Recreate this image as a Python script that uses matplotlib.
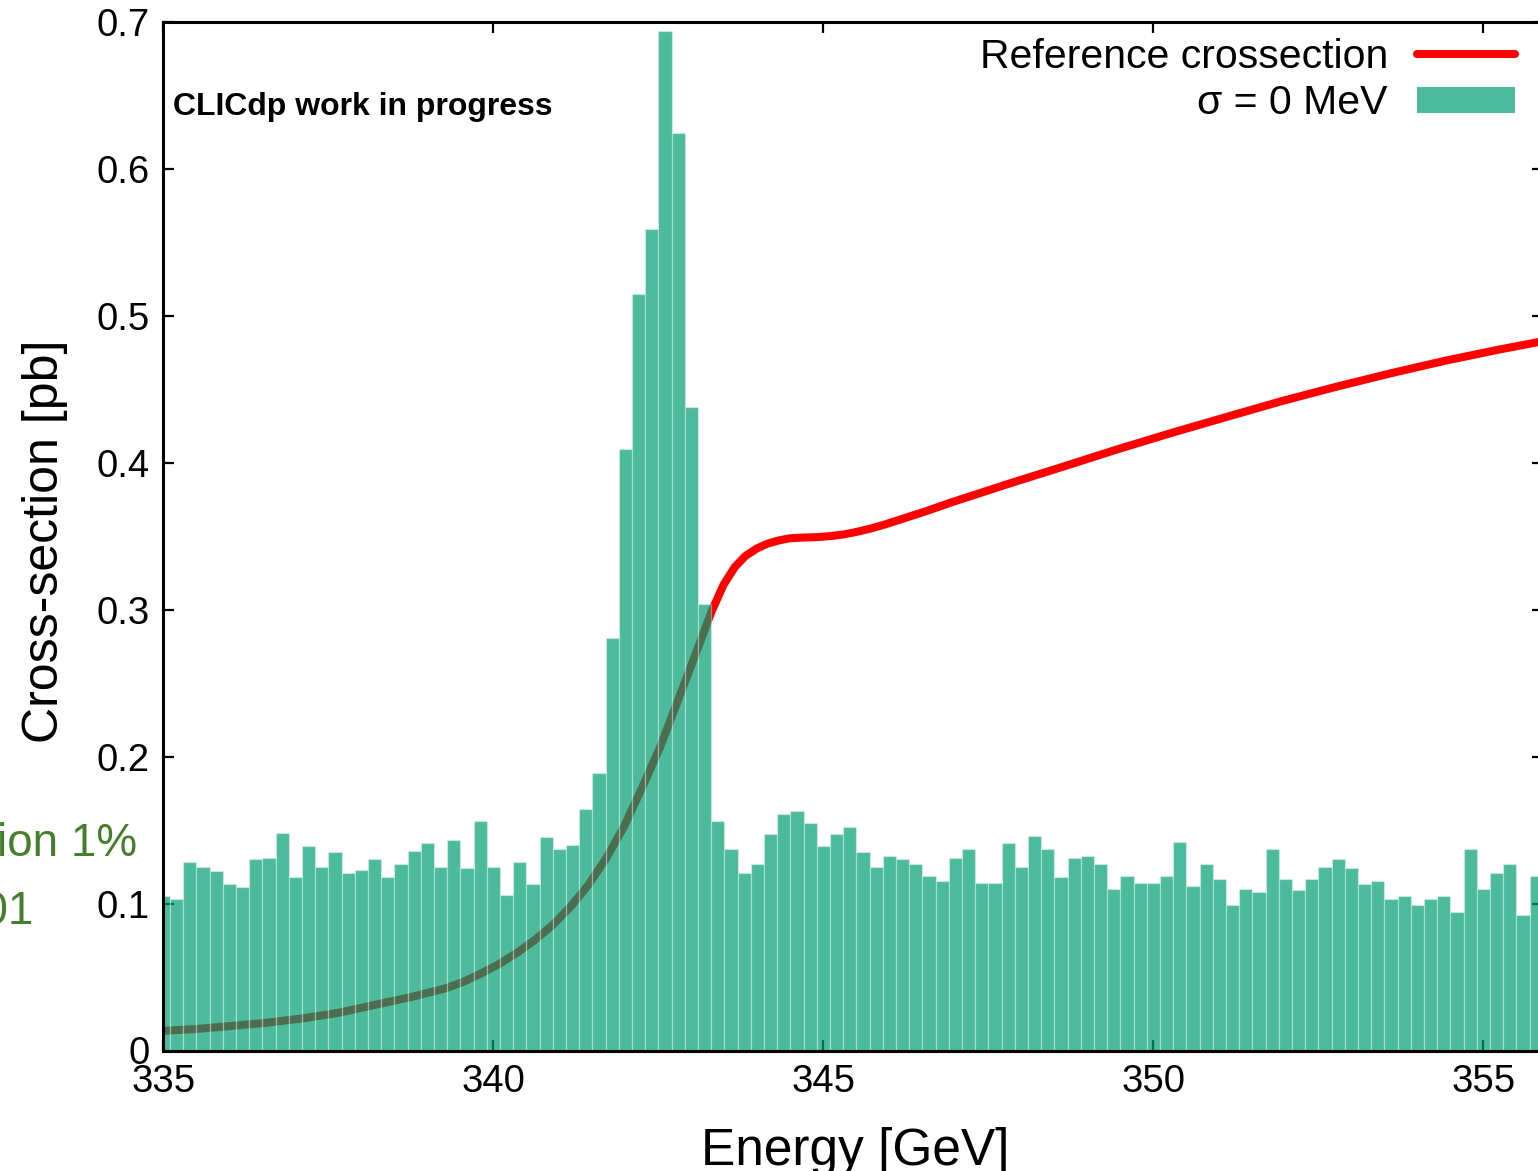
import matplotlib
matplotlib.use("Agg")
import matplotlib.pyplot as plt
from matplotlib.patches import Patch
from matplotlib.lines import Line2D

# ---------------- data ----------------
bin_width = 0.2
bin_centers = [round(335.0 + bin_width * i, 1) for i in range(105)]
hist_values = [
    0.105, 0.103, 0.128, 0.125, 0.122, 0.113, 0.111, 0.130, 0.131, 0.148,
    0.118, 0.139, 0.125, 0.135, 0.121, 0.123, 0.130, 0.118, 0.127, 0.136,
    0.141, 0.125, 0.143, 0.124, 0.156, 0.125, 0.106, 0.128, 0.113, 0.145,
    0.137, 0.140, 0.164, 0.189, 0.281, 0.409, 0.515, 0.559, 0.694, 0.624,
    0.438, 0.304, 0.156, 0.137, 0.121, 0.127, 0.147, 0.161, 0.163, 0.155,
    0.139, 0.147, 0.152, 0.135, 0.125, 0.132, 0.130, 0.127, 0.119, 0.115,
    0.131, 0.137, 0.114, 0.114, 0.141, 0.125, 0.146, 0.137, 0.118, 0.131,
    0.132, 0.127, 0.110, 0.119, 0.114, 0.114, 0.119, 0.142, 0.112, 0.127,
    0.117, 0.099, 0.110, 0.108, 0.137, 0.117, 0.109, 0.117, 0.125, 0.130,
    0.124, 0.113, 0.115, 0.103, 0.105, 0.099, 0.103, 0.105, 0.094, 0.137,
    0.110, 0.121, 0.127, 0.092, 0.119,
]

curve_energy = [334.95, 335.49, 336.03, 336.57, 337.12, 337.66, 338.2, 338.74,
                339.28, 339.55, 339.82, 340.09, 340.36, 340.63, 340.9, 341.17,
                341.44, 341.71, 341.98, 342.25, 342.53, 342.8, 343.07, 343.31,
                343.49, 343.66, 343.82, 343.99, 344.15, 344.32, 344.49, 344.69,
                344.9, 345.11, 345.32, 345.52, 345.73, 345.94, 346.14, 346.56,
                346.97, 347.39, 347.8, 348.63, 349.46, 350.29, 351.12, 351.95,
                352.78, 353.6, 354.43, 355.26, 355.95]
curve_xsec = [0.0133, 0.0146, 0.0167, 0.0189, 0.0219, 0.0257, 0.0310, 0.0362,
              0.0423, 0.0468, 0.0525, 0.0589, 0.0665, 0.0752, 0.0854, 0.0978,
              0.1126, 0.1308, 0.1523, 0.1784, 0.2067, 0.2385, 0.2703, 0.2990,
              0.3170, 0.3290, 0.3365, 0.3415, 0.3448, 0.3470, 0.3485, 0.3490,
              0.3493, 0.3500, 0.3512, 0.3530, 0.3553, 0.3580, 0.3609, 0.3670,
              0.3734, 0.3795, 0.3855, 0.3972, 0.4091, 0.4204, 0.4312, 0.4419,
              0.4517, 0.4608, 0.4694, 0.4771, 0.4830]

x_ticks = [335, 340, 345, 350, 355]
x_tick_labels = ["335", "340", "345", "350", "355"]
y_ticks = [0, 0.1, 0.2, 0.3, 0.4, 0.5, 0.6, 0.7]
y_tick_labels = ["0", "0.1", "0.2", "0.3", "0.4", "0.5", "0.6", "0.7"]

label_curve = "Reference crossection"
label_hist = "σ = 0 MeV"

# ---------------- style ----------------
plt.rcParams["font.family"] = ["Liberation Sans", "DejaVu Sans"]
W, H = 1538, 1171
fig = plt.figure(figsize=(W / 100, H / 100), dpi=100)

ax_left, ax_right, ax_top, ax_bottom = 163.3, 1542.7, 21.7, 1050.5
ax = fig.add_axes([ax_left / W, (H - ax_bottom) / H,
                   (ax_right - ax_left) / W, (ax_bottom - ax_top) / H])

bar_color = (0.0, 158 / 255, 115 / 255, 0.7)

ax.plot(curve_energy, curve_xsec, color="#ff0000", lw=5.8, zorder=1,
        solid_capstyle="round", solid_joinstyle="round")
ax.bar(bin_centers, hist_values, width=bin_width, color=bar_color,
       edgecolor=(1, 1, 1, 0.35), linewidth=0.9, zorder=2)

ax.set_xlim(335, 355.9)
ax.set_ylim(0, 0.7)

ax.set_xticks(x_ticks)
ax.set_xticklabels(x_tick_labels)
ax.set_yticks(y_ticks)
ax.set_yticklabels(y_tick_labels)

for s in ax.spines.values():
    s.set_linewidth(2.2)
    s.set_zorder(5)

ax.tick_params(which="major", direction="in", length=8, width=1.6,
               top=True, right=True, labelsize=27.5, colors="black")
ax.tick_params(axis="x", pad=10)
ax.tick_params(axis="y", pad=10)

ax.set_ylabel("Cross-section [pb]", fontsize=36)
ax.yaxis.set_label_coords((68 - ax_left) / (ax_right - ax_left),
                          (ax_bottom - 541) / (ax_bottom - ax_top))
ax.set_xlabel("Energy [GeV]", fontsize=37)
ax.xaxis.set_label_coords((855 - ax_left) / (ax_right - ax_left),
                          -(1127 - ax_bottom) / (ax_bottom - ax_top))

# legend (gnuplot style: text then sample)
handles = [Line2D([], [], color="#ff0000", lw=5.8, solid_capstyle="round"),
           Patch(facecolor=bar_color, edgecolor="none")]
leg = fig.legend(handles, [label_curve, label_hist], loc="upper right",
                 bbox_to_anchor=(1515 / W, 1 - 38 / H), frameon=False,
                 markerfirst=False, fontsize=29.5, handlelength=2.4,
                 handleheight=0.6, handletextpad=0.7, labelspacing=0.2,
                 borderpad=0, borderaxespad=0)

fig.text(173 / W, 1 - 115 / H, "CLICdp work in progress", fontsize=23,
         fontweight="bold", ha="left", va="baseline")

# slide text clipped at the left edge
green = "#467f2c"
fig.text(137 / W, 1 - 856 / H, "ion 1%", fontsize=33, color=green,
         ha="right", va="baseline")
fig.text(34 / W, 1 - 924 / H, "0.01", fontsize=33, color=green,
         ha="right", va="baseline")

fig.savefig("out.png", dpi=100)
